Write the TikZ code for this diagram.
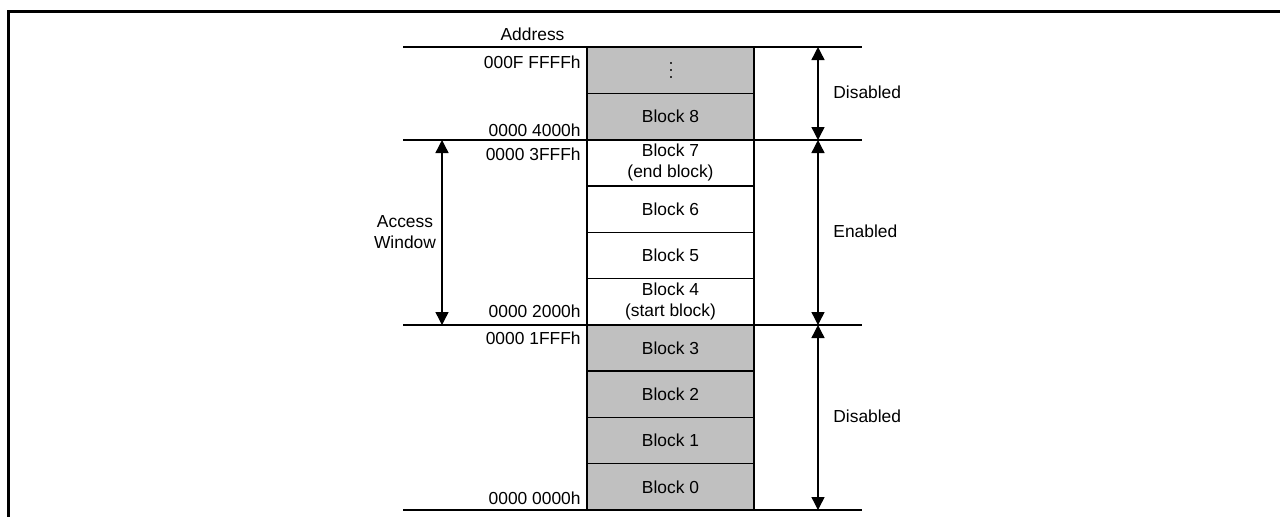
\documentclass[tikz,border=0pt]{standalone}
\usepackage{fontspec}
\setmainfont{Liberation Sans}
\usetikzlibrary{arrows.meta}
\definecolor{blockgray}{HTML}{C0C0C0}
\begin{document}
\begin{tikzpicture}[x=0.5pt,y=-0.5pt,
  every node/.style={font=\fontsize{8.7pt}{10.5pt}\selectfont, inner sep=0pt},
  blk/.style={draw, line width=0.7pt, minimum width=83.5pt, minimum height=23.15pt, align=center},
  dis/.style={blk, fill=blockgray},
  en/.style={blk, fill=white},
  addr/.style={anchor=east},
  sepline/.style={line width=0.7pt},
  dimline/.style={line width=0.7pt, {Triangle[length=6.5pt,width=6.5pt]}-{Triangle[length=6.5pt,width=6.5pt]}},
  frameline/.style={line width=1.5pt},
  vdot/.style={fill=black!80}
]
\useasboundingbox (0,0) rectangle (1280,516);
\fill[white] (0,0) rectangle (1280,516);
% frame
\coordinate (fb) at (8.5,520);
\coordinate (fc) at (8.5,11.5);
\coordinate (fr) at (1282,11.5);
\draw[frameline] (fb) -- (fc) -- (fr);

% blocks
\node[dis] (bdots) at (670.5,70.15) {};
\fill[vdot] ([shift={(-0.5pt,2.85pt)}]bdots.center) rectangle ++(1pt,1pt);
\fill[vdot] ([shift={(-0.5pt,-0.5pt)}]bdots.center) rectangle ++(1pt,1pt);
\fill[vdot] ([shift={(-0.5pt,-3.85pt)}]bdots.center) rectangle ++(1pt,1pt);
\node[dis] (b8) at (670.5,116.45) {Block 8};
\node[en]  (b7) at (670.5,162.75) {Block 7\\(end block)};
\node[en]  (b6) at (670.5,209.05) {Block 6};
\node[en]  (b5) at (670.5,255.35) {Block 5};
\node[en]  (b4) at (670.5,301.65) {Block 4\\(start block)};
\node[dis] (b3) at (670.5,347.95) {Block 3};
\node[dis] (b2) at (670.5,394.25) {Block 2};
\node[dis] (b1) at (670.5,440.55) {Block 1};
\node[dis] (b0) at (670.5,486.85) {Block 0};

% separator lines
\coordinate (l0) at (403,47);   \coordinate (r0) at (862,47);
\coordinate (l1) at (403,140);  \coordinate (r1) at (862,140);
\coordinate (l2) at (403,325);  \coordinate (r2) at (862,325);
\coordinate (l3) at (403,510);  \coordinate (r3) at (862,510);
\draw[sepline] (l0) -- (r0);
\draw[sepline] (l1) -- (r1);
\draw[sepline] (l2) -- (r2);
\draw[sepline] (l3) -- (r3);

% address labels
\node (addrt) at (532.5,34) {Address};
\node[addr] (a1) at (581,62) {000F FFFFh};
\node[addr] (a2) at (581,130) {0000 4000h};
\node[addr] (a3) at (581,154) {0000 3FFFh};
\node[addr] (a4) at (581,311) {0000 2000h};
\node[addr] (a5) at (581,338) {0000 1FFFh};
\node[addr] (a6) at (581,498) {0000 0000h};

% right dimension arrows
\coordinate (d0) at (818,47);
\coordinate (d1) at (818,140);
\coordinate (d2) at (818,325);
\coordinate (d3) at (818,510);
\draw[dimline] (d0) -- (d1);
\draw[dimline] (d1) -- (d2);
\draw[dimline] (d2) -- (d3);
\node[anchor=west] (dis1) at (833,92) {Disabled};
\node[anchor=west] (ena) at (833,231) {Enabled};
\node[anchor=west] (dis2) at (833,416) {Disabled};

% access window
\coordinate (w0) at (442,140);
\coordinate (w1) at (442,325);
\draw[dimline] (w0) -- (w1);
\node[align=center] (aw) at (405,232) {Access\\Window};
\end{tikzpicture}
\end{document}
